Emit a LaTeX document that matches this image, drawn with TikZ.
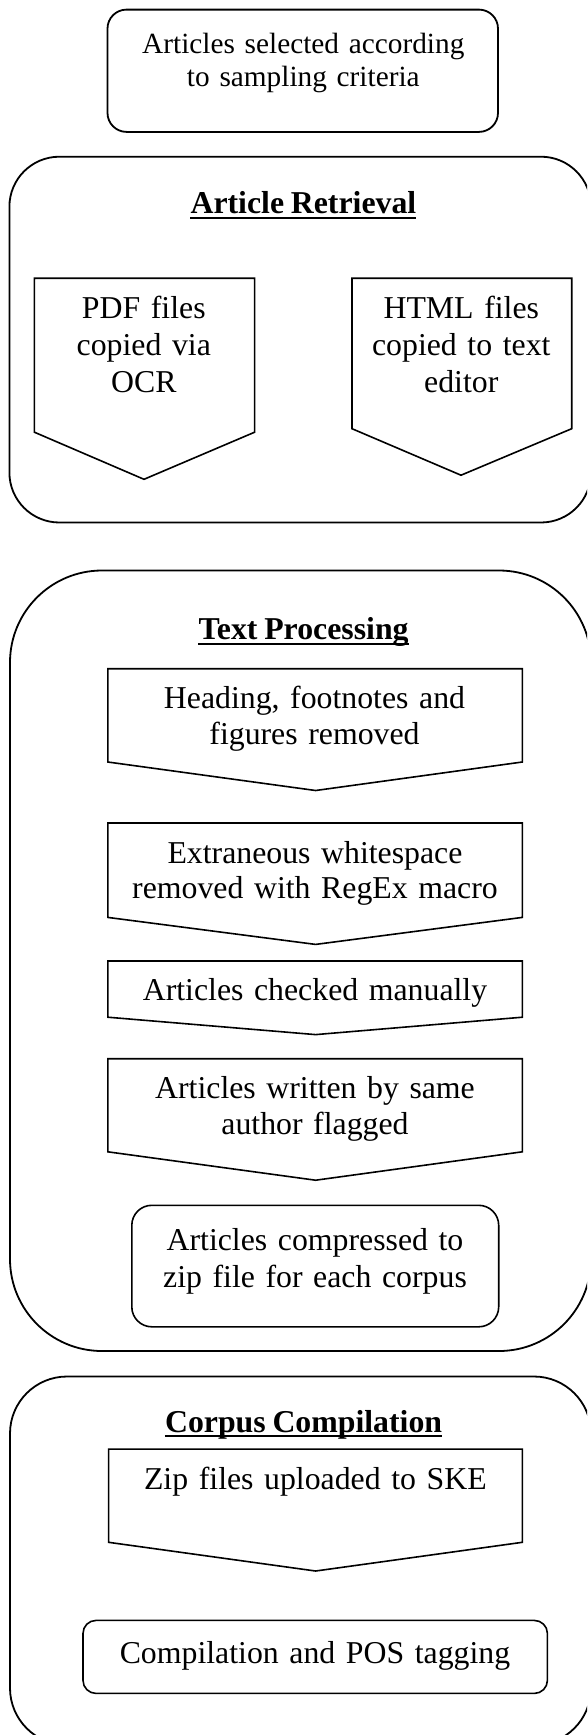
\documentclass[tikz,border=0pt]{standalone}
\usepackage{fontspec}
\setmainfont{Liberation Serif}[WordSpace=0.85]
\begin{document}
\begin{tikzpicture}[x=1pt,y=-1pt,
  outerbox/.style={draw, line width=1.8pt},
  stepshape/.style={draw, line width=1.6pt, line join=miter},
  body/.style={inner sep=0pt, anchor=base, align=center, text width=#1,
    font=\fontsize{31.8pt}{36.5pt}\selectfont},
  heading/.style={inner sep=0pt, anchor=base,
    font=\fontsize{31.8pt}{36.5pt}\selectfont\bfseries},
  uline/.style={line width=1.8pt}]
\useasboundingbox (0,0) rectangle (587,1735);
\clip (0,0) rectangle (587,1735);

% starting point
\draw[outerbox, rounded corners=19pt] (107.5,9.6) rectangle (498,131.9);
\node[body=380pt, font=\fontsize{29.3pt}{32.7pt}\selectfont] (sel) at (303.3,53.4)
  {Articles selected according\\to sampling criteria};

% ---- Article Retrieval ----
\draw[outerbox, rounded corners=50pt] (9.4,156.7) rectangle (591,522.5);
\node[heading] (ar) at (303.4,213.5) {Article Retrieval};
\draw[uline] ([yshift=-4.1pt]ar.base west) -- ([yshift=-4.1pt]ar.base east);

\draw[stepshape] (34.4,278.2) -- (254.6,278.2) -- (254.6,432.2) -- (144,479.3) -- (34.4,432.2) -- cycle;
\node[body=210pt, font=\fontsize{31.8pt}{37pt}\selectfont] (pdf) at (143.8,318.5)
  {PDF files\\copied via\\OCR};

\draw[stepshape] (352,278.2) -- (571.7,278.2) -- (571.7,428.7) -- (461,475.2) -- (352,428.7) -- cycle;
\node[body=210pt, font=\fontsize{31.8pt}{37pt}\selectfont] (html) at (461.3,318.5)
  {HTML files\\copied to text\\editor};

% ---- Text Processing ----
\draw[outerbox, rounded corners=92pt] (10,570.5) rectangle (591,1351);
\node[heading] (tp) at (303.6,639.1) {Text Processing};
\draw[uline] ([yshift=-5pt]tp.base west) -- ([yshift=-5pt]tp.base east);

\draw[stepshape] (107.8,668.7) -- (522.3,668.7) -- (522.3,762) -- (315.6,790.5) -- (107.8,762) -- cycle;
\node[body=400pt] (head) at (314.5,708.3) {Heading, footnotes and\\figures removed};

\draw[stepshape] (107.8,823) -- (522.3,823) -- (522.3,917.4) -- (315.6,944.4) -- (107.8,917.4) -- cycle;
\node[body=400pt, font=\fontsize{31.8pt}{35.2pt}\selectfont] (ws) at (315,863.7)
  {Extraneous whitespace\\removed with RegEx macro};

\draw[stepshape] (107.8,961) -- (522.3,961) -- (522.3,1017.2) -- (315.6,1034.6) -- (107.8,1017.2) -- cycle;
\node[body=400pt] (chk) at (315,1000.6) {Articles checked manually};

\draw[stepshape] (107.8,1058.7) -- (522.3,1058.7) -- (522.3,1151.8) -- (315.6,1180.2) -- (107.8,1151.8) -- cycle;
\node[body=400pt, font=\fontsize{31.8pt}{35.8pt}\selectfont] (auth) at (315,1098.6)
  {Articles written by same\\author flagged};

\draw[stepshape, rounded corners=20pt] (131.8,1205.3) rectangle (498.7,1326.8);
\node[body=360pt] (zip) at (315,1250.7) {Articles compressed to\\zip file for each corpus};

% ---- Corpus Compilation ----
\draw[outerbox, rounded corners=57pt] (10,1376.5) rectangle (591,1745);
\node[heading] (cc) at (303.6,1432.1) {Corpus Compilation};
\draw[uline] ([yshift=-4.1pt]cc.base west) -- ([yshift=-4.1pt]cc.base east);

\draw[stepshape] (108.6,1449.1) -- (522.3,1449.1) -- (522.3,1542.3) -- (315.6,1571) -- (108.6,1542.3) -- cycle;
\node[body=400pt] (up) at (315.4,1489.6) {Zip files uploaded to SKE};

\draw[stepshape, rounded corners=13pt] (83,1620.4) rectangle (547.4,1693.4);
\node[body=450pt] (pos) at (315,1663) {Compilation and POS tagging};
\end{tikzpicture}
\end{document}
